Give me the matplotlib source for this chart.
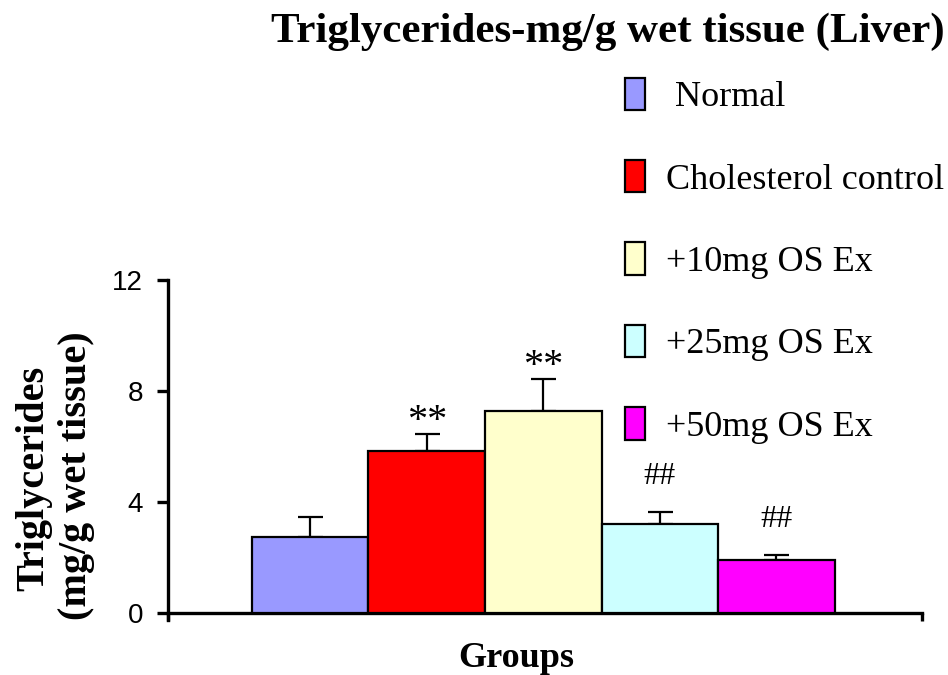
import matplotlib
matplotlib.use("Agg")
import matplotlib.pyplot as plt
from matplotlib.patches import Patch

groups = [" Normal", "Cholesterol control", "+10mg OS Ex", "+25mg OS Ex", "+50mg OS Ex"]
values = [2.75, 5.84, 7.28, 3.21, 1.91]
errors = [0.72, 0.61, 1.14, 0.44, 0.18]
colors = ["#9999FF", "#FF0000", "#FFFFCC", "#CCFFFF", "#FF00FF"]
marks = ["", "**", "**", "##", "##"]
yticks = [0, 4, 8, 12]

fig = plt.figure(figsize=(9.48, 6.75), dpi=100)
ax = fig.add_axes([0.1772, 0.0815, 0.9726 - 0.1772, 0.5852 - 0.0815])

x = list(range(len(values)))
ax.bar(x, values, width=1.0, color=colors, edgecolor="black", linewidth=1.6, zorder=3)
ax.errorbar(x, values, yerr=[[0] * len(errors), errors], fmt="none", ecolor="black",
            elinewidth=1.6, capsize=9, capthick=1.6, zorder=2)

serif = "Liberation Serif"
for xi, v, e, m in zip(x, values, errors, marks):
    if not m:
        continue
    fs = 29 if m == "**" else 23
    off = -0.22 if m == "**" else 0.75
    ax.text(xi, v + e + off, m, ha="center", va="bottom", fontsize=fs, family=serif)

ax.set_xlim(-1.22, 5.25)
ax.set_ylim(-0.25, 12)
ax.spines["top"].set_visible(False)
ax.spines["right"].set_visible(False)
ax.spines["bottom"].set_position(("data", 0))
for s in ["left", "bottom"]:
    ax.spines[s].set_linewidth(2.4)
ax.set_yticks(yticks)
ax.set_yticklabels([str(t) for t in yticks], family="Liberation Sans", fontsize=20)
ax.tick_params(axis="y", direction="out", length=8, width=2.4, pad=10)
ax.set_xticks([-1.22, 5.25])
ax.set_xticklabels(["", ""])
ax.tick_params(axis="x", direction="out", length=6, width=2.4)

fig.text(0.641, 0.953, "Triglycerides-mg/g wet tissue (Liver)", ha="center", va="center",
         fontsize=31, fontweight="bold", family=serif)
fig.text(0.545, 0.025, "Groups", ha="center", va="center",
         fontsize=26, fontweight="bold", family=serif)
fig.text(0.036, 0.292, "Triglycerides", rotation=90, ha="center", va="center",
         fontsize=29, fontweight="bold", family=serif)
fig.text(0.081, 0.296, "(mg/g wet tissue)", rotation=90, ha="center", va="center",
         fontsize=29, fontweight="bold", family=serif)

handles = [Patch(facecolor=c, edgecolor="black", linewidth=1.6) for c in colors]
leg = fig.legend(handles, groups, loc="upper left", bbox_to_anchor=(0.659, 0.885),
                 frameon=False, handlelength=0.55, handleheight=1.0, handletextpad=0.6,
                 labelspacing=1.27, prop={"family": serif, "size": 26}, borderaxespad=0,
                 borderpad=0)

fig.savefig("out.png", dpi=100)
